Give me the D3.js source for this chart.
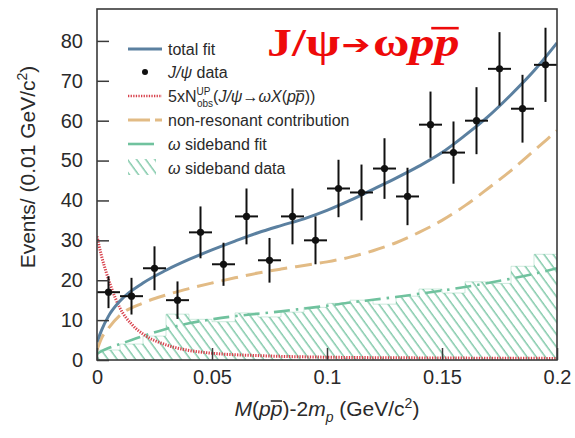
<!DOCTYPE html>
<html>
<head>
<meta charset="utf-8">
<script src="https://cdn.jsdelivr.net/npm/d3@7"></script>
<style>
  body { margin: 0; background: #fff; }
</style>
</head>
<body>
<div id="chart"></div>
<script>
// J/psi data (bin centers, events, errors)
const massBins = [0.005, 0.015, 0.025, 0.035, 0.045, 0.055, 0.065, 0.075, 0.085, 0.095,
                  0.105, 0.115, 0.125, 0.135, 0.145, 0.155, 0.165, 0.175, 0.185, 0.195];
const dataEvents = [17, 16, 23, 15, 32, 24, 36, 25, 36, 30, 43, 42, 48, 41, 59, 52, 60, 73, 63, 74];
const dataErrors = [4, 4.6, 5.5, 4.7, 6.5, 5.4, 7, 5.6, 7, 6, 7.2, 7, 7.6, 7.2, 8.3, 7.8, 8.4, 9.2, 8.5, 9.3];

// omega sideband data histogram (same bins)
const sidebandData = [2.5, 4, 6, 11.5, 10.2, 9.6, 11.8, 10.8, 12, 13.2,
                      14.2, 15, 14, 16, 17.8, 16.8, 19.6, 19.2, 23.5, 26.5];

// fitted curves sampled at these masses
const fitX = [0, 0.002, 0.005, 0.01, 0.02, 0.03, 0.04, 0.05, 0.06, 0.07, 0.08, 0.09,
              0.1, 0.11, 0.12, 0.13, 0.14, 0.15, 0.16, 0.17, 0.18, 0.19, 0.2];
const totalFit = [4.5, 7.5, 11, 14.8, 19.3, 22.5, 25.2, 27.6, 29.8, 31.9, 33.7, 35.4,
                  37.5, 40, 42.8, 45.6, 48.6, 52, 56.3, 61, 66.5, 72.5, 79.5];
const nonResonant = [2.5, 5.5, 8, 11.2, 14.3, 16.3, 17.9, 19.3, 20.6, 21.8, 22.8, 23.7,
                     24.6, 25.8, 27.4, 29.4, 32, 35, 38.7, 43, 47.5, 52.5, 57.5];
const sidebandFit = [1.5, 2.2, 3, 4, 6, 7.8, 9.2, 10.2, 11, 11.6, 12.2, 12.9,
                     13.6, 14.4, 15.1, 15.8, 16.6, 17.4, 18.3, 19.3, 20.4, 21.6, 23];

// 5 x upper limit curve
const upperX = [0, 0.002, 0.004, 0.006, 0.008, 0.01, 0.015, 0.02, 0.03, 0.04, 0.05, 0.07, 0.1, 0.15, 0.2];
const upperY = [31, 26, 22, 18.5, 15.5, 13, 9, 6.5, 3.8, 2.4, 1.7, 1.1, 0.7, 0.5, 0.4];

const xTicks = [0, 0.05, 0.1, 0.15, 0.2];
const yTicks = [0, 10, 20, 30, 40, 50, 60, 70, 80];

const colors = {
    total: "#5b80a0",
    nonres: "#e2bb85",
    upper: "#d8414c",
    green: "#70c29e",
    frame: "#3a3a3a",
    text: "#2a2a2a",
    title: "#ee0a0a"
};
const sans = "Liberation Sans, Arial, sans-serif";

const W = 575, H = 438;
const plot = { left: 97, right: 557, top: 9, bottom: 360 };

const x = d3.scaleLinear().domain([0, 0.2]).range([plot.left, plot.right]);
const y = d3.scaleLinear().domain([0, 88]).range([plot.bottom, plot.top]);

const svg = d3.select("#chart").append("svg")
    .attr("width", W).attr("height", H)
    .attr("font-family", sans);

const defs = svg.append("defs");
defs.append("clipPath").attr("id", "plotClip")
    .append("rect")
    .attr("x", plot.left).attr("y", plot.top)
    .attr("width", plot.right - plot.left).attr("height", plot.bottom - plot.top);

const hatch = defs.append("pattern")
    .attr("id", "hatch")
    .attr("patternUnits", "userSpaceOnUse")
    .attr("width", 7.4).attr("height", 20)
    .attr("patternTransform", "rotate(-36)");
hatch.append("line")
    .attr("x1", 2).attr("x2", 2).attr("y1", 0).attr("y2", 20)
    .attr("stroke", colors.green).attr("stroke-width", 1.3);

const plotArea = svg.append("g").attr("clip-path", "url(#plotClip)");

// sideband data: hatched step histogram
const binW = 0.01;
const stepPts = [];
sidebandData.forEach((v, i) => {
    const x0 = massBins[i] - binW / 2, x1 = massBins[i] + binW / 2;
    stepPts.push([x0, v], [x1, v]);
});
plotArea.append("path")
    .datum(stepPts)
    .attr("d", d3.area().x(d => x(d[0])).y0(y(0)).y1(d => y(d[1])))
    .attr("fill", "url(#hatch)");
plotArea.append("path")
    .datum(stepPts)
    .attr("d", d3.line().x(d => x(d[0])).y(d => y(d[1])))
    .attr("fill", "none")
    .attr("stroke", colors.green)
    .attr("stroke-width", 1)
    .attr("stroke-opacity", 0.35);

const curve = d3.line()
    .x(d => x(d[0])).y(d => y(d[1]))
    .curve(d3.curveMonotoneX);

// sideband fit
plotArea.append("path")
    .datum(fitX.map((m, i) => [m, sidebandFit[i]]))
    .attr("d", curve)
    .attr("fill", "none")
    .attr("stroke", colors.green)
    .attr("stroke-width", 2.6)
    .attr("stroke-dasharray", "16,6,2.5,6");

// upper limit (x5)
plotArea.append("path")
    .datum(upperX.map((m, i) => [m, upperY[i]]))
    .attr("d", curve)
    .attr("fill", "none")
    .attr("stroke", colors.upper)
    .attr("stroke-width", 3)
    .attr("stroke-dasharray", "1.3,1.3");

// non-resonant contribution
plotArea.append("path")
    .datum(fitX.map((m, i) => [m, nonResonant[i]]))
    .attr("d", curve)
    .attr("fill", "none")
    .attr("stroke", colors.nonres)
    .attr("stroke-width", 3)
    .attr("stroke-dasharray", "17,8");

// total fit
plotArea.append("path")
    .datum(fitX.map((m, i) => [m, totalFit[i]]))
    .attr("d", curve)
    .attr("fill", "none")
    .attr("stroke", colors.total)
    .attr("stroke-width", 3);

// data points with error bars
const pts = svg.append("g").selectAll("g")
    .data(massBins.map((m, i) => ({ m, v: dataEvents[i], e: dataErrors[i] })))
    .join("g");
pts.append("line")
    .attr("x1", d => x(d.m - binW / 2)).attr("x2", d => x(d.m + binW / 2))
    .attr("y1", d => y(d.v)).attr("y2", d => y(d.v))
    .attr("stroke", "#111").attr("stroke-width", 2);
pts.append("line")
    .attr("x1", d => x(d.m)).attr("x2", d => x(d.m))
    .attr("y1", d => y(d.v - d.e)).attr("y2", d => y(d.v + d.e))
    .attr("stroke", "#111").attr("stroke-width", 2);
pts.append("circle")
    .attr("cx", d => x(d.m)).attr("cy", d => y(d.v))
    .attr("r", 3.6).attr("fill", "#111");

// frame
svg.append("rect")
    .attr("x", plot.left).attr("y", plot.top)
    .attr("width", plot.right - plot.left).attr("height", plot.bottom - plot.top)
    .attr("fill", "none").attr("stroke", colors.frame).attr("stroke-width", 1.6);

// axes: ticks pointing inward
const xAxis = svg.append("g").attr("transform", `translate(0,${plot.bottom})`);
xAxis.call(d3.axisTop(x).tickValues(d3.range(0, 0.2001, 0.01)).tickSize(6).tickFormat(""));
xAxis.call(d3.axisTop(x).tickValues(xTicks).tickSize(12).tickFormat(""));
xAxis.selectAll(".domain").remove();
xAxis.selectAll("line").attr("stroke", colors.frame).attr("stroke-width", 1.5);

svg.append("g").attr("transform", `translate(0,${plot.bottom})`)
    .call(d3.axisBottom(x).tickValues(xTicks).tickSize(0).tickPadding(10)
        .tickFormat(d => d === 0 ? "0" : String(+d.toFixed(2))))
    .call(g => g.select(".domain").remove())
    .selectAll("text")
    .attr("font-size", 20).attr("fill", colors.text)
    .attr("font-family", sans);

const yAxis = svg.append("g").attr("transform", `translate(${plot.left},0)`);
yAxis.call(d3.axisRight(y).tickValues(d3.range(0, 88.1, 2)).tickSize(6).tickFormat(""));
yAxis.call(d3.axisRight(y).tickValues(yTicks).tickSize(12).tickFormat(""));
yAxis.selectAll(".domain").remove();
yAxis.selectAll("line").attr("stroke", colors.frame).attr("stroke-width", 1.5);

svg.append("g").attr("transform", `translate(${plot.left},0)`)
    .call(d3.axisLeft(y).tickValues(yTicks).tickSize(0).tickPadding(14))
    .call(g => g.select(".domain").remove())
    .selectAll("text")
    .attr("font-size", 20).attr("fill", colors.text)
    .attr("font-family", sans);

// helper: overline above a tspan (drawn in the tspan's own coordinate system)
function overline(tspan, dyTop, width, color, parent) {
    const b = tspan.node().getBBox();
    (parent || svg).append("line")
        .attr("x1", b.x + 1).attr("x2", b.x + b.width - 0.5)
        .attr("y1", b.y + dyTop).attr("y2", b.y + dyTop)
        .attr("stroke", color || colors.text)
        .attr("stroke-width", width);
}

// axis titles
const xt = svg.append("text")
    .attr("x", 327).attr("y", 416)
    .attr("text-anchor", "middle")
    .attr("font-size", 21).attr("fill", colors.text);
xt.append("tspan").attr("font-style", "italic").text("M");
xt.append("tspan").text("(");
xt.append("tspan").attr("font-style", "italic").text("p");
const xtBar = xt.append("tspan").attr("font-style", "italic").text("p");
xt.append("tspan").text(")-2");
xt.append("tspan").attr("font-style", "italic").text("m");
xt.append("tspan").attr("font-style", "italic").attr("font-size", 14).attr("dy", 6).text("p");
xt.append("tspan").attr("dy", -6).text(" (GeV/c");
xt.append("tspan").attr("font-size", 14).attr("dy", -8).text("2");
xt.append("tspan").attr("dy", 8).text(")");
overline(xtBar, 4, 1.6);

const yt = svg.append("text")
    .attr("transform", "translate(35,167) rotate(-90)")
    .attr("text-anchor", "middle")
    .attr("font-size", 21).attr("fill", colors.text);
yt.append("tspan").text("Events/ (0.01 GeV/c");
yt.append("tspan").attr("font-size", 14).attr("dy", -8).text("2");
yt.append("tspan").attr("dy", 8).text(")");

// legend
const lg = svg.append("g");
const lx0 = 128, lx1 = 162, tx = 168;
const rows = [49, 72, 96, 120, 144, 168];
const legendText = (yy) => lg.append("text")
    .attr("x", tx).attr("y", yy + 6)
    .attr("font-size", 16).attr("fill", colors.text);

lg.append("line").attr("x1", lx0).attr("x2", lx1).attr("y1", rows[0]).attr("y2", rows[0])
    .attr("stroke", colors.total).attr("stroke-width", 3);
legendText(rows[0]).text("total fit");

lg.append("circle").attr("cx", 145).attr("cy", rows[1]).attr("r", 3).attr("fill", "#111");
const t1 = legendText(rows[1]);
t1.append("tspan").attr("font-style", "italic").text("J/ψ");
t1.append("tspan").text(" data");

lg.append("line").attr("x1", lx0).attr("x2", lx1).attr("y1", rows[2]).attr("y2", rows[2])
    .attr("stroke", colors.upper).attr("stroke-width", 2.6).attr("stroke-dasharray", "1.3,1.3");
const t2 = legendText(rows[2]);
t2.append("tspan").text("5xN");
t2.append("tspan").attr("font-size", 10).attr("dy", -7).text("UP");
t2.append("tspan").attr("font-size", 10).attr("dx", -13.4).attr("dy", 12).text("obs");
t2.append("tspan").attr("dy", -5).text("(");
t2.append("tspan").attr("font-style", "italic").text("J/ψ→ωX");
t2.append("tspan").text("(");
t2.append("tspan").attr("font-style", "italic").text("p");
const t2Bar = t2.append("tspan").attr("font-style", "italic").text("p");
t2.append("tspan").text("))");
overline(t2Bar, 3, 1.3);

lg.append("line").attr("x1", lx0).attr("x2", lx1).attr("y1", rows[3]).attr("y2", rows[3])
    .attr("stroke", colors.nonres).attr("stroke-width", 3).attr("stroke-dasharray", "22,5");
legendText(rows[3]).text("non-resonant contribution");

lg.append("line").attr("x1", lx0).attr("x2", lx1 - 8).attr("y1", rows[4]).attr("y2", rows[4])
    .attr("stroke", colors.green).attr("stroke-width", 2.6);
const t4 = legendText(rows[4]);
t4.append("tspan").attr("font-style", "italic").text("ω");
t4.append("tspan").text(" sideband fit");

lg.append("rect").attr("x", lx0).attr("y", rows[5] - 9).attr("width", 28).attr("height", 16)
    .attr("fill", "url(#hatch)");
const t5 = legendText(rows[5]);
t5.append("tspan").attr("font-style", "italic").text("ω");
t5.append("tspan").text(" sideband data");

// channel title, horizontally stretched to match the wide glyphs of the original
const titleG = svg.append("g").attr("transform", "translate(267,56) scale(1.28,1)");
const title = titleG.append("text")
    .attr("font-family", "Liberation Serif, Times New Roman, serif")
    .attr("font-weight", "bold")
    .attr("font-size", 39)
    .attr("fill", colors.title);
title.append("tspan").text("J/ψ");
title.append("tspan").attr("dx", 1).attr("dy", -2)
    .attr("font-family", "DejaVu Sans").attr("font-size", 27).text("➔");
title.append("tspan").attr("dx", 2).attr("dy", 2).text("ω");
title.append("tspan").attr("font-style", "italic").text("p");
const titleBar = title.append("tspan").attr("font-style", "italic").text("p");
overline(titleBar, 7, 2.6, colors.title, titleG);
</script>
</body>
</html>
